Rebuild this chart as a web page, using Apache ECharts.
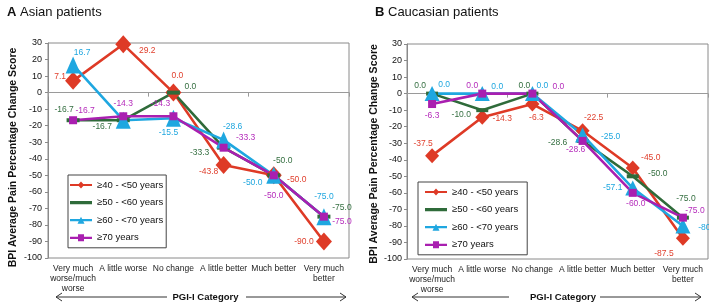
<!DOCTYPE html>
<html><head><meta charset="utf-8">
<script src="https://cdn.jsdelivr.net/npm/echarts@6/dist/echarts.min.js"></script>
<style>html,body{margin:0;padding:0;background:#fff}#c{width:709px;height:303px}</style>
</head><body><div id="c"></div>
<script>
// ---- data ----
const categories = ['Very much\nworse/much\nworse', 'A little worse', 'No change', 'A little better', 'Much better', 'Very much\nbetter'];
const seriesNames = ['≥40 - <50 years', '≥50 - <60 years', '≥60 - <70 years', '≥70 years'];
const panelTitles = ['Asian patients', 'Caucasian patients'];
const panelLetters = ['A', 'B'];
const yAxisTitle = 'BPI Average Pain Percentage Change Score';
const xAxisTitle = 'PGI-I Category';

const asian40to50 = [7.1, 29.2, 0.0, -43.8, -50.0, -90.0];
const asian50to60 = [-16.7, -16.7, 0.0, -33.3, -50.0, -75.0];
const asian60to70 = [16.7, -16.7, -15.5, -28.6, -50.0, -75.0];
const asian70plus = [-16.7, -14.3, -14.3, -33.3, -50.0, -75.0];

const cauc40to50 = [-37.5, -14.3, -6.3, -22.5, -45.0, -87.5];
const cauc50to60 = [0.0, -10.0, 0.0, -28.6, -50.0, -75.0];
const cauc60to70 = [0.0, 0.0, 0.0, -25.0, -57.1, -80.0];
const cauc70plus = [-6.3, 0.0, 0.0, -28.6, -60.0, -75.0];

const yMin = -100, yMax = 30, yStep = 10;

// ---- layout / style (not data) ----
const colors = ['#de3a26', '#2f6b3a', '#1fa7e0', '#a91fb0'];
const labelColors = ['#e0402e', '#356f41', '#1ea6df', '#b52cbb'];
const asianLabelOffsets = [
  [[-13, -4], [24, 6], [4, -17], [-15, 7], [23, 4], [-20, 0]],
  [[-9, -11], [-21, 6], [17, -6], [-24, 5], [9, -15], [18, -9]],
  [[9, -12], null, [-5, 14], [9, -13], [-21, 7], [0, -20]],
  [[12, -10], [0, -13], [-13, -13], [22, -10], [0, 20], [18, 5]]
];
const caucLabelOffsets = [
  [[-9, -12], [20, 1], [4, 14], [11, -13], [18, -10], [-19, 15]],
  [[-12, -8], [-21, 5], [-8, -8], [-25, 2], [25, -3], [3, -19]],
  [[12, -9], [15, -7], [10, -8], [28, 2], [-20, 0], [25, 2]],
  [[0, 12], [-10, -8], [26, -7], [-7, 9], [3, 11], [12, -7]]
];
const symbolsA = [['diamond', [16, 18]], ['rect', [13, 4]], ['triangle', [15, 17]], ['rect', [8, 8]]];
const symbolsB = [['diamond', [14, 15]], ['rect', [12, 4]], ['triangle', [15, 15]], ['rect', [8, 8]]];

const speck = 'M0,0 L0.01,0 L0,0.01 Z M0,7 L0.01,7 L0,6.99 Z ';
const legendIcons = [
  'path://M0,2.4 H22 V4.6 H0 Z M11,0 L14.2,3.5 L11,7 L7.8,3.5 Z',
  'path://' + speck + 'M0,1.8 H22 V5.2 H0 Z',
  'path://M0,2.4 H22 V4.6 H0 Z M11,0 L14.5,7 L7.5,7 Z',
  'path://M0,2.4 H22 V4.6 H0 Z M8,0 H14 V7 H8 Z'
];

const asianValues = [asian40to50, asian50to60, asian60to70, asian70plus];
const caucValues = [cauc40to50, cauc50to60, cauc60to70, cauc70plus];

function makeSeries(values, k, gi, offsets, sym) {
  return {
    type: 'line', name: seriesNames[k],
    xAxisIndex: gi * 2, yAxisIndex: gi,
    data: values.map((v, i) => ({
      value: v,
      label: offsets[i] ? { show: true, offset: offsets[i] } : { show: false }
    })),
    symbol: sym[0], symbolSize: sym[1], showAllSymbol: true,
    lineStyle: { color: colors[k], width: 2.6 },
    itemStyle: { color: colors[k], borderWidth: 0 },
    label: {
      show: true, position: 'inside', align: 'center', verticalAlign: 'middle',
      fontSize: 8.5, fontFamily: 'Liberation Sans, Arial, sans-serif',
      color: labelColors[k], formatter: p => Number(p.value).toFixed(1)
    },
    emphasis: { disabled: true },
    animation: false
  };
}

const series = [];
asianValues.forEach((vals, k) => series.push(makeSeries(vals, k, 0, asianLabelOffsets[k], symbolsA[k])));
caucValues.forEach((vals, k) => series.push(makeSeries(vals, k, 1, caucLabelOffsets[k], symbolsB[k])));

const grids = [
  { left: 48, top: 43, width: 301, height: 215 },
  { left: 407, top: 44, width: 301, height: 215 }
];

const xAxes = [];
grids.forEach((g, gi) => {
  xAxes.push({
    type: 'category', gridIndex: gi, data: categories, position: 'bottom', boundaryGap: true,
    axisLine: { show: false, onZero: false }, axisTick: { show: false },
    axisLabel: { interval: 0, margin: 6, fontSize: 8.5, lineHeight: 10, color: '#222',
      fontFamily: 'Liberation Sans, Arial, sans-serif' },
    splitLine: { show: false }
  });
  xAxes.push({
    type: 'category', gridIndex: gi, data: categories, position: 'bottom', boundaryGap: true,
    axisLine: { show: true, onZero: true, lineStyle: { color: '#9a9a9a', width: 1 } },
    axisTick: { show: true, length: 4, lineStyle: { color: '#9a9a9a' } },
    axisLabel: { show: false }, splitLine: { show: false }
  });
});

const yAxes = grids.map((g, gi) => ({
  type: 'value', gridIndex: gi, min: yMin, max: yMax, interval: yStep,
  axisLine: { show: true, lineStyle: { color: '#8a8a8a' } },
  axisTick: { show: true, length: 3, lineStyle: { color: '#8a8a8a' } },
  axisLabel: { fontSize: 9, color: '#111', margin: gi === 0 ? 6 : 5,
    fontFamily: 'Liberation Sans, Arial, sans-serif' },
  splitLine: { show: false }
}));

const legendCommon = {
  orient: 'vertical', itemWidth: 22, itemHeight: 7, itemGap: 5.6,
  symbolKeepAspect: false, borderColor: '#444', borderWidth: 1, backgroundColor: '#fff',
  itemStyle: { borderWidth: 0 },
  textStyle: { fontSize: 9.5, lineHeight: 12, color: '#111', fontFamily: 'Liberation Sans, Arial, sans-serif' },
  data: seriesNames.map((n, k) => ({ name: n, icon: legendIcons[k] })),
  selectedMode: false
};

const arrowColor = '#333';
function arrowGraphics(leftTip, leftEnd, rightStart, rightTip, y) {
  return [
    { type: 'line', shape: { x1: leftTip, y1: y, x2: leftEnd, y2: y }, style: { stroke: arrowColor, lineWidth: 1 } },
    { type: 'polyline', shape: { points: [[leftTip + 6, y - 4], [leftTip, y], [leftTip + 6, y + 4]] }, style: { stroke: arrowColor, lineWidth: 1, fill: null } },
    { type: 'line', shape: { x1: rightStart, y1: y, x2: rightTip, y2: y }, style: { stroke: arrowColor, lineWidth: 1 } },
    { type: 'polyline', shape: { points: [[rightTip - 6, y - 4], [rightTip, y], [rightTip - 6, y + 4]] }, style: { stroke: arrowColor, lineWidth: 1, fill: null } }
  ];
}

const graphic = [
  { type: 'text', x: 13, y: 157.5, rotation: Math.PI / 2,
    style: { text: yAxisTitle, fontSize: 10.5, fontWeight: 'bold', fill: '#111', align: 'center', verticalAlign: 'middle',
      fontFamily: 'Liberation Sans, Arial, sans-serif' } },
  { type: 'text', x: 374, y: 154, rotation: Math.PI / 2,
    style: { text: yAxisTitle, fontSize: 10.5, fontWeight: 'bold', fill: '#111', align: 'center', verticalAlign: 'middle',
      fontFamily: 'Liberation Sans, Arial, sans-serif' } },
  { type: 'text', x: 205.5, y: 297,
    style: { text: xAxisTitle, fontSize: 9.5, fontWeight: 'bold', fill: '#111', align: 'center', verticalAlign: 'middle',
      fontFamily: 'Liberation Sans, Arial, sans-serif' } },
  { type: 'text', x: 563, y: 297,
    style: { text: xAxisTitle, fontSize: 9.5, fontWeight: 'bold', fill: '#111', align: 'center', verticalAlign: 'middle',
      fontFamily: 'Liberation Sans, Arial, sans-serif' } },
  ...arrowGraphics(56, 167, 246, 346, 297),
  ...arrowGraphics(412, 509, 600, 701, 297)
];

const chart = echarts.init(document.getElementById('c'), null, { renderer: 'canvas' });
chart.setOption({
  animation: false,
  backgroundColor: '#fff',
  title: [
    { left: 2, top: 1, text: '{b|' + panelLetters[0] + '} ' + panelTitles[0],
      textStyle: { fontSize: 13, fontWeight: 'normal', color: '#111', fontFamily: 'Liberation Sans, Arial, sans-serif',
        rich: { b: { fontSize: 13, fontWeight: 'bold', color: '#111', fontFamily: 'Liberation Sans, Arial, sans-serif' } } } },
    { left: 370, top: 1, text: '{b|' + panelLetters[1] + '} ' + panelTitles[1],
      textStyle: { fontSize: 13, fontWeight: 'normal', color: '#111', fontFamily: 'Liberation Sans, Arial, sans-serif',
        rich: { b: { fontSize: 13, fontWeight: 'bold', color: '#111', fontFamily: 'Liberation Sans, Arial, sans-serif' } } } }
  ],
  grid: grids.map(g => Object.assign({ show: true, borderColor: '#8a8a8a', borderWidth: 1, backgroundColor: 'transparent' }, g)),
  xAxis: xAxes,
  yAxis: yAxes,
  legend: [
    Object.assign({ left: 68, top: 175, padding: [4, 3, 4, 2] }, legendCommon),
    Object.assign({ left: 418, top: 182, padding: [4, 9, 4, 7] }, legendCommon)
  ],
  tooltip: { show: false },
  series: series,
  graphic: graphic
});
</script>
</body></html>
